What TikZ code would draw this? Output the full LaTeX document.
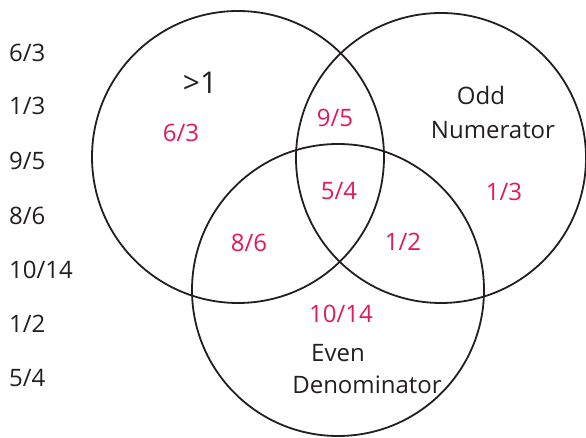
\documentclass[tikz,border=0pt]{standalone}
\usepackage{fontspec}
\setmainfont{Open Sans}
\definecolor{lab}{HTML}{E2195A}
\definecolor{ink}{HTML}{231F20}
\begin{document}
\begin{tikzpicture}[x=1pt,y=-1pt,
  ring/.style={draw=ink,line width=1.8pt},
  item/.style={font=\fontsize{24}{28}\selectfont,text=ink,inner sep=0pt,anchor=west},
  val/.style={font=\fontsize{24}{28}\selectfont,text=lab,inner sep=0pt},
  title/.style={font=\fontsize{24}{28}\selectfont,text=ink,inner sep=0pt,align=center}]
\useasboundingbox (0,0) rectangle (586,438);
\draw[ring] (238,157) circle (146);
\draw[ring] (441,158) circle (145);
\draw[ring] (338,290) circle (146);
\node[item] (l1) at (9,53) {6/3};
\node[item] (l2) at (9,106) {1/3};
\node[item] (l3) at (9,161) {9/5};
\node[item] (l4) at (9,216) {8/6};
\node[item] (l5) at (9,270) {10/14};
\node[item] (l6) at (9,324) {1/2};
\node[item] (l7) at (9,378) {5/4};
\node[title,font=\fontsize{30}{32}\selectfont] (gt) at (200,83) {>1};
\node[title] (odd) at (481,96) {Odd};
\node[title] (num) at (493,130) {Numerator};
\node[title] (even) at (338,353) {Even};
\node[title] (den) at (367,385) {Denominator};
\node[val] (a) at (181,133) {6/3};
\node[val] (b) at (335,118) {9/5};
\node[val] (c) at (339,191) {5/4};
\node[val] (d) at (249,243) {8/6};
\node[val] (e) at (403,242) {1/2};
\node[val] (f) at (504,192) {1/3};
\node[val] (g) at (341,314) {10/14};
\end{tikzpicture}
\end{document}
